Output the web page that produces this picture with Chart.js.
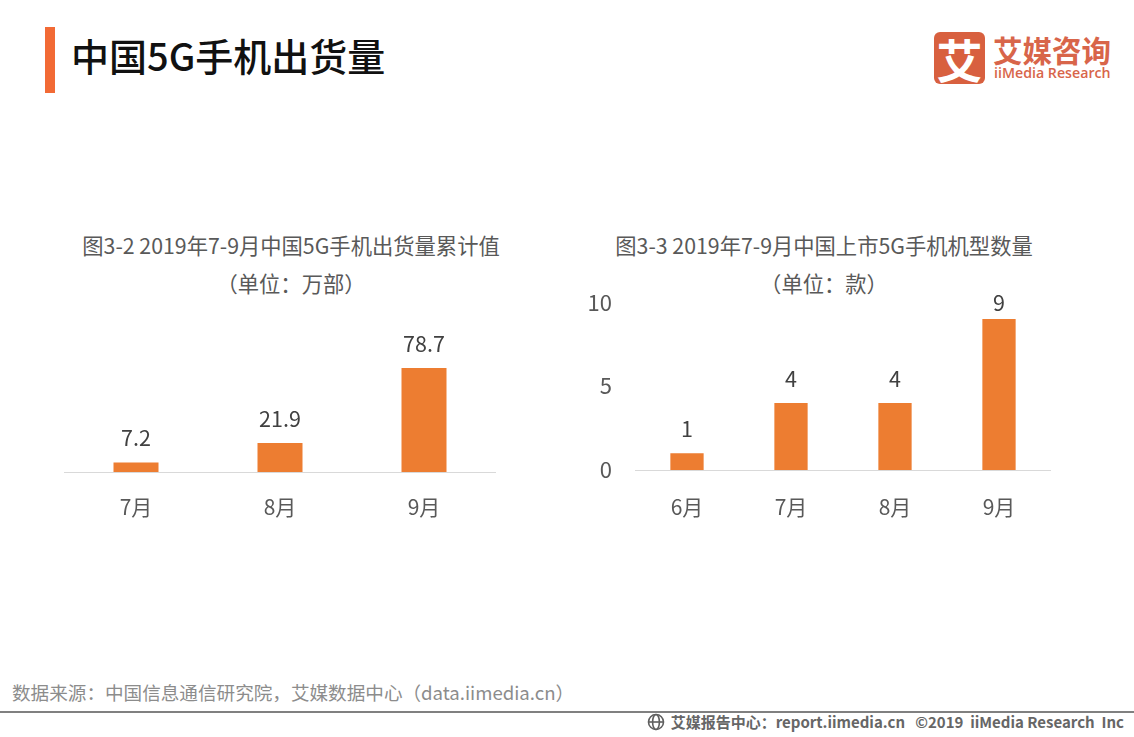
<!DOCTYPE html>
<html lang="zh">
<head>
<meta charset="utf-8">
<title>中国5G手机出货量</title>
<script src="https://cdn.jsdelivr.net/npm/chart.js@4"></script>
<style>
  html, body { margin: 0; padding: 0; background: #fff; }
  body { position: relative; width: 1134px; height: 737px; overflow: hidden; font-family: "Noto Sans CJK SC", sans-serif; }
  .abs { position: absolute; white-space: nowrap; line-height: 1; }
  canvas { position: absolute; }
  .sub { color: #595959; font-size: 21.3px; text-align: center; width: 500px; }
</style>
</head>
<body>
<div class="abs" style="left:45px;top:27px;width:10px;height:66px;background:#f26a35"></div>
<div class="abs" style="left:71px;top:36px;font-size:38px;font-weight:500;color:#111">中国5G手机出货量</div>

<!-- logo -->
<div class="abs" style="left:934px;top:32px;width:51px;height:52px;border-radius:6px;background:#d8603f;color:#fff;font-size:46px;font-weight:700;text-align:center;line-height:52px">艾</div>
<div class="abs" style="left:993px;top:35px;font-size:29.5px;font-weight:700;color:#d8654a">艾媒咨询</div>
<div class="abs" style="left:994px;top:66px;font-family:'Open Sans';font-size:14.2px;font-weight:600;color:#d8654a">iiMedia Research</div>

<div class="abs sub" style="left:41px;top:234px">图3-2 2019年7-9月中国5G手机出货量累计值</div>
<div class="abs sub" style="left:41px;top:272px">（单位：万部）</div>
<div class="abs sub" style="left:574px;top:234px">图3-3 2019年7-9月中国上市5G手机机型数量</div>
<div class="abs sub" style="left:574px;top:272px">（单位：款）</div>

<canvas id="chartLeft" style="left:64px;top:320px;width:432px;height:220px"></canvas>
<canvas id="chartRight" style="left:571px;top:266px;width:480px;height:274px"></canvas>

<div class="abs" style="left:12px;top:683px;font-size:18.6px;color:#8c8c8c">数据来源：中国信息通信研究院，艾媒数据中心（data.iimedia.cn）</div>
<div class="abs" style="left:0;top:711px;width:1134px;height:2px;background:#808080"></div>
<svg class="abs" style="left:647px;top:713px" width="19" height="19" viewBox="0 0 19 19" fill="none" stroke="#5f5f5f" stroke-width="1.6">
  <circle cx="9" cy="9" r="7.5"/><ellipse cx="9" cy="9" rx="3.4" ry="7.5"/><path d="M1.5 9h15"/>
</svg>
<div class="abs" style="right:10px;top:714px;font-size:15px;font-weight:700;color:#666">艾媒报告中心：report.iimedia.cn&nbsp;&nbsp;&nbsp;©2019&nbsp;&nbsp;iiMedia Research&nbsp;&nbsp;Inc</div>

<script>
const leftMonths = ['7月', '8月', '9月'];
const leftValues = [7.2, 21.9, 78.7];
const rightMonths = ['6月', '7月', '8月', '9月'];
const rightValues = [1, 4, 4, 9];
const rightTicks = [0, 5, 10];

const FONT = '"Noto Sans CJK SC", sans-serif';
const BAR_COLOR = '#ed7d31';

// draws the value above each bar, kept inside the plot top like the original
const valueLabels = {
  id: 'valueLabels',
  afterDatasetsDraw(chart) {
    const ctx = chart.ctx;
    const meta = chart.getDatasetMeta(0);
    ctx.save();
    ctx.font = '21.5px ' + FONT;
    ctx.fillStyle = '#404040';
    ctx.textAlign = 'center';
    ctx.textBaseline = 'middle';
    meta.data.forEach(function (bar, i) {
      const y = Math.max(bar.y - 24.5, chart.chartArea.top + 1);
      ctx.fillText(chart.data.datasets[0].data[i], bar.x, y);
    });
    ctx.restore();
  }
};

function makeChart(id, labels, values, yMax, showY, axisH, tickPad, barPct, leftW, topPad) {
  return new Chart(document.getElementById(id), {
    type: 'bar',
    data: {
      labels: labels,
      datasets: [{ data: values, backgroundColor: BAR_COLOR, categoryPercentage: 1, barPercentage: barPct }]
    },
    options: {
      responsive: false,
      animation: false,
      layout: { padding: { top: topPad, left: 0, right: 0, bottom: 0 } },
      plugins: { legend: { display: false }, tooltip: { enabled: false } },
      scales: {
        x: {
          grid: { display: false },
          border: { color: '#d9d9d9' },
          ticks: { color: '#595959', font: { family: FONT, size: 21 }, padding: tickPad, maxRotation: 0 },
          afterFit(axis) { axis.height = axisH; }
        },
        y: {
          display: showY,
          min: 0,
          max: yMax,
          grid: { display: false, drawTicks: false },
          border: { display: false },
          afterBuildTicks(axis) { axis.ticks = rightTicks.map(function (v) { return { value: v }; }); },
          ticks: { color: '#595959', font: { family: FONT, size: 22 }, padding: 23 },
          afterFit(axis) { axis.width = leftW; }
        }
      }
    },
    plugins: [valueLabels]
  });
}

// sizes have to be set on the canvas itself when responsive is off
function sizeCanvas(id, w, h) {
  const c = document.getElementById(id);
  c.width = w;
  c.height = h;
}
sizeCanvas('chartLeft', 432, 220);
sizeCanvas('chartRight', 480, 274);

makeChart('chartLeft', leftMonths, leftValues, 100, false, 68, 14, 0.3125, 0, 20);
makeChart('chartRight', rightMonths, rightValues, 10, true, 70, 16, 0.32, 64, 0);
</script>
</body>
</html>
